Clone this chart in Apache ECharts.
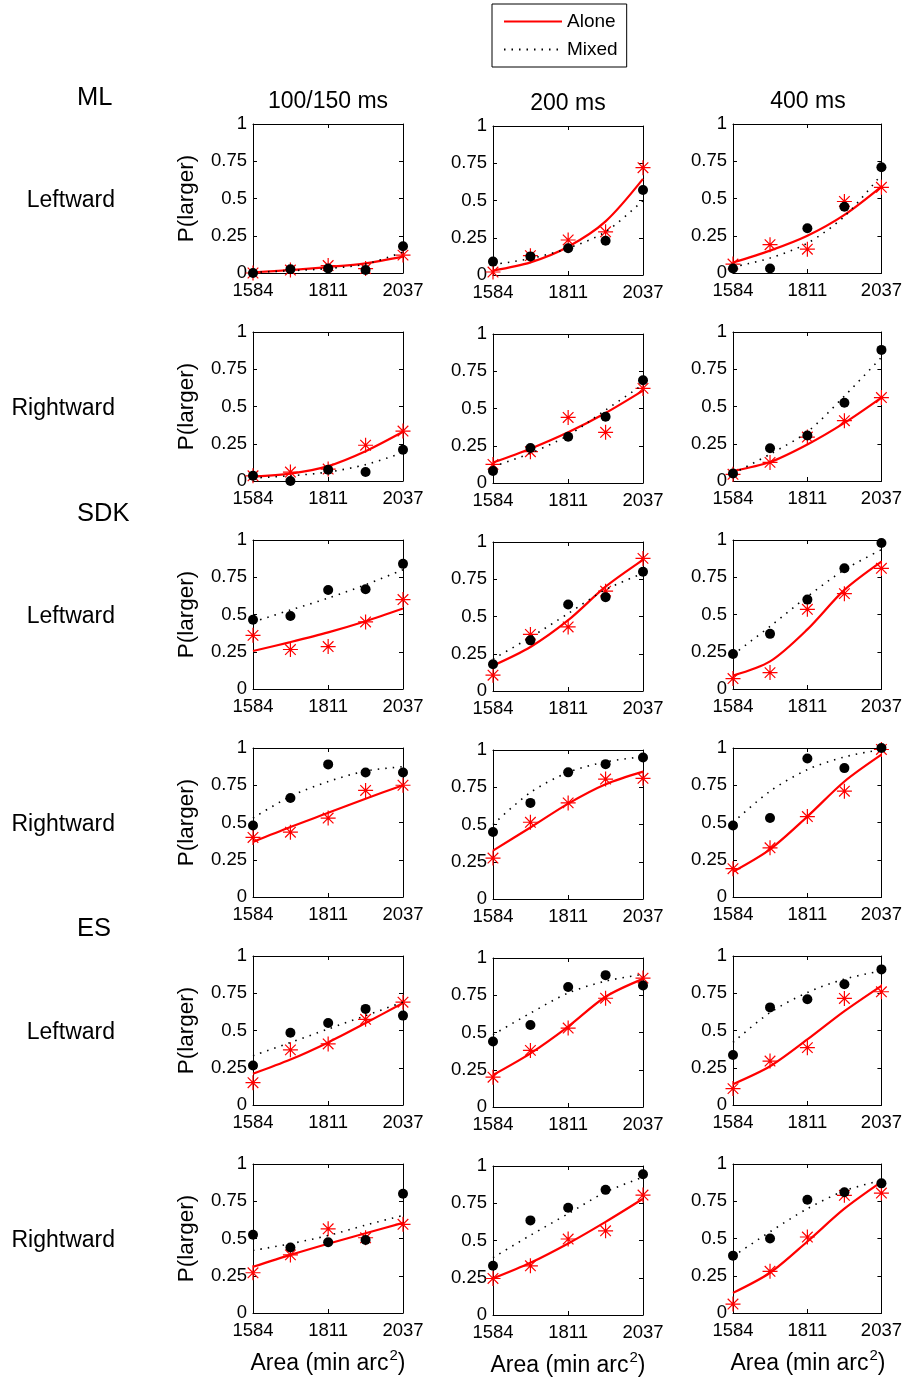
<!DOCTYPE html>
<html>
<head>
<meta charset="utf-8">
<script src="https://cdn.jsdelivr.net/npm/echarts@6/dist/echarts.min.js"></script>
<style>
html,body{margin:0;padding:0;background:#fff;}
#chart{width:905px;height:1378px;}
</style>
</head>
<body>
<div id="chart"></div>
<script>
// ---------- data ----------
const areas = [1584, 1697, 1811, 1924, 2037];
const xTickValues = [1584, 1811, 2037];
const groups = ['ML', 'SDK', 'ES'];
const directions = ['Leftward', 'Rightward'];
const durations = ['100/150 ms', '200 ms', '400 ms'];

// each array: one entry per duration column [100/150, 200, 400]
// ML Leftward
const ML_L_aloneObs = [[0.00,0.02,0.05,0.03,0.12],[0.02,0.13,0.235,0.29,0.72],[0.06,0.19,0.16,0.48,0.575]];
const ML_L_mixedObs = [[0.00,0.025,0.03,0.02,0.18],[0.09,0.125,0.18,0.23,0.57],[0.03,0.03,0.30,0.445,0.71]];
const ML_L_aloneFit = [[0.005,0.02,0.04,0.065,0.11],[0.03,0.085,0.19,0.36,0.645],[0.07,0.15,0.25,0.39,0.58]];
const ML_L_mixedFit = [[0.005,0.015,0.03,0.06,0.14],[0.07,0.11,0.18,0.29,0.50],[0.04,0.10,0.20,0.38,0.66]];
// ML Rightward
const ML_R_aloneObs = [[0.035,0.06,0.08,0.24,0.335],[0.125,0.21,0.44,0.34,0.635],[0.045,0.125,0.295,0.405,0.56]];
const ML_R_mixedObs = [[0.035,0.0,0.075,0.06,0.21],[0.08,0.235,0.31,0.445,0.69],[0.05,0.22,0.305,0.525,0.88]];
const ML_R_aloneFit = [[0.03,0.05,0.10,0.20,0.33],[0.137,0.23,0.34,0.47,0.62],[0.067,0.127,0.245,0.39,0.56]];
const ML_R_mixedFit = [[0.02,0.035,0.06,0.11,0.19],[0.11,0.20,0.32,0.49,0.66],[0.05,0.18,0.33,0.57,0.83]];
// SDK Leftward
const SDK_L_aloneObs = [[0.36,0.265,0.285,0.45,0.60],[0.106,0.38,0.43,0.67,0.89],[0.07,0.11,0.535,0.64,0.81]];
const SDK_L_mixedObs = [[0.465,0.49,0.665,0.67,0.84],[0.18,0.34,0.58,0.63,0.80],[0.235,0.37,0.60,0.81,0.98]];
const SDK_L_aloneFit = [[0.255,0.315,0.38,0.455,0.54],[0.17,0.295,0.475,0.70,0.88],[0.09,0.185,0.40,0.665,0.855]];
const SDK_L_mixedFit = [[0.45,0.53,0.61,0.70,0.80],[0.215,0.36,0.52,0.68,0.79],[0.23,0.42,0.62,0.80,0.935]];
// SDK Rightward
const SDK_R_aloneObs = [[0.40,0.435,0.53,0.715,0.75],[0.275,0.515,0.645,0.805,0.81],[0.19,0.33,0.54,0.71,0.99]];
const SDK_R_mixedObs = [[0.48,0.665,0.89,0.835,0.835],[0.45,0.645,0.85,0.905,0.95],[0.48,0.53,0.93,0.865,1.0]];
const SDK_R_aloneFit = [[0.37,0.47,0.565,0.66,0.75],[0.325,0.48,0.64,0.77,0.855],[0.17,0.32,0.54,0.775,0.955]];
const SDK_R_mixedFit = [[0.53,0.675,0.775,0.845,0.875],[0.50,0.715,0.85,0.92,0.955],[0.50,0.71,0.855,0.94,0.99]];
// ES Leftward
const ES_L_aloneObs = [[0.15,0.37,0.41,0.575,0.69],[0.20,0.38,0.53,0.73,0.865],[0.11,0.295,0.385,0.715,0.76]];
const ES_L_mixedObs = [[0.265,0.485,0.55,0.645,0.60],[0.44,0.55,0.805,0.885,0.815],[0.335,0.655,0.71,0.81,0.91]];
const ES_L_aloneFit = [[0.21,0.305,0.42,0.55,0.685],[0.215,0.36,0.54,0.74,0.86],[0.14,0.26,0.44,0.63,0.80]];
const ES_L_mixedFit = [[0.33,0.42,0.51,0.60,0.69],[0.485,0.63,0.765,0.845,0.89],[0.42,0.62,0.755,0.845,0.90]];
// ES Rightward
const ES_R_aloneObs = [[0.27,0.39,0.565,0.505,0.595],[0.245,0.33,0.51,0.565,0.805],[0.06,0.28,0.51,0.79,0.805]];
const ES_R_mixedObs = [[0.525,0.44,0.475,0.49,0.80],[0.33,0.635,0.72,0.84,0.945],[0.385,0.50,0.76,0.81,0.87]];
const ES_R_aloneFit = [[0.31,0.39,0.465,0.535,0.605],[0.245,0.35,0.48,0.625,0.78],[0.135,0.27,0.48,0.70,0.88]];
const ES_R_mixedFit = [[0.42,0.465,0.52,0.59,0.655],[0.385,0.535,0.68,0.825,0.925],[0.38,0.545,0.70,0.82,0.89]];

const rowsData = [
  {alone: ML_L_aloneObs, mixed: ML_L_mixedObs, aFit: ML_L_aloneFit, mFit: ML_L_mixedFit},
  {alone: ML_R_aloneObs, mixed: ML_R_mixedObs, aFit: ML_R_aloneFit, mFit: ML_R_mixedFit},
  {alone: SDK_L_aloneObs, mixed: SDK_L_mixedObs, aFit: SDK_L_aloneFit, mFit: SDK_L_mixedFit},
  {alone: SDK_R_aloneObs, mixed: SDK_R_mixedObs, aFit: SDK_R_aloneFit, mFit: SDK_R_mixedFit},
  {alone: ES_L_aloneObs, mixed: ES_L_mixedObs, aFit: ES_L_aloneFit, mFit: ES_L_mixedFit},
  {alone: ES_R_aloneObs, mixed: ES_R_mixedObs, aFit: ES_R_aloneFit, mFit: ES_R_mixedFit}
];

// ---------- layout ----------
const FONT = '"Liberation Sans", Arial, Helvetica, sans-serif';
const colLeft = [253, 493, 733];
const colShift = [0, 2, 0];
const rowTop0 = 124, rowStep = 208;
const boxW = 150, boxH = 149;
const STAR = 'path://M0,-10L0,10M-10,0L10,0M-7.07,-7.07L7.07,7.07M-7.07,7.07L7.07,-7.07';

const grid = [], xAxis = [], yAxis = [], series = [], graphic = [];
const pairs = ys => areas.map((a, i) => [a, ys[i]]);

let gi = 0;
for (let r = 0; r < 6; r++) {
  for (let c = 0; c < 3; c++) {
    const top = rowTop0 + r * rowStep + colShift[c];
    grid.push({left: colLeft[c], top: top, width: boxW, height: boxH, containLabel: false});
    const axLine = {show: true, onZero: false, lineStyle: {color: '#000', width: 1}};
    xAxis.push({
      gridIndex: gi, type: 'value', min: 1584, max: 2037, position: 'bottom',
      axisLine: axLine,
      axisTick: {show: true, inside: true, length: 4, customValues: xTickValues, lineStyle: {color: '#000'}},
      axisLabel: {show: true, customValues: xTickValues, formatter: v => String(v), color: '#000', fontSize: 18.5, fontFamily: FONT, margin: 8},
      splitLine: {show: false}
    });
    xAxis.push({
      gridIndex: gi, type: 'value', min: 1584, max: 2037, position: 'top',
      axisLine: axLine,
      axisTick: {show: true, inside: true, length: 4, customValues: xTickValues, lineStyle: {color: '#000'}},
      axisLabel: {show: false}, splitLine: {show: false}
    });
    yAxis.push({
      gridIndex: gi, type: 'value', min: 0, max: 1, interval: 0.25, position: 'left',
      axisLine: axLine,
      axisTick: {show: true, inside: true, length: 4, lineStyle: {color: '#000'}},
      axisLabel: {show: true, color: '#000', fontSize: 18.5, fontFamily: FONT, margin: 6},
      splitLine: {show: false}
    });
    yAxis.push({
      gridIndex: gi, type: 'value', min: 0, max: 1, interval: 0.25, position: 'right',
      axisLine: axLine,
      axisTick: {show: true, inside: true, length: 4, lineStyle: {color: '#000'}},
      axisLabel: {show: false}, splitLine: {show: false}
    });
    const xi = gi * 2, yi = gi * 2;
    const d = rowsData[r];
    series.push({
      name: 'Alone', type: 'line', xAxisIndex: xi, yAxisIndex: yi,
      data: pairs(d.aFit[c]), smooth: 0.3, symbol: 'none', clip: false,
      lineStyle: {color: '#ff0000', width: 2.2}, itemStyle: {color: '#ff0000'}, z: 2
    });
    series.push({
      name: 'Alone data', type: 'scatter', xAxisIndex: xi, yAxisIndex: yi,
      data: pairs(d.alone[c]), symbol: STAR, symbolSize: 15, clip: false,
      itemStyle: {color: 'rgba(0,0,0,0)', borderColor: '#ff0000', borderWidth: 1.2, opacity: 1}, z: 3
    });
    series.push({
      name: 'Mixed', type: 'line', xAxisIndex: xi, yAxisIndex: yi,
      data: pairs(d.mFit[c]), smooth: 0.3, symbol: 'none', clip: false,
      lineStyle: {color: '#000', width: 1.6, type: [1.5, 6]}, itemStyle: {color: '#000'}, z: 4
    });
    series.push({
      name: 'Mixed data', type: 'scatter', xAxisIndex: xi, yAxisIndex: yi,
      data: pairs(d.mixed[c]), symbol: 'circle', symbolSize: 10, clip: false,
      itemStyle: {color: '#000', opacity: 1}, z: 5
    });
    gi++;
  }
  // row labels
  const cy = rowTop0 + r * rowStep + boxH / 2 + 2;
  graphic.push({type: 'text', x: 115, y: cy, style: {text: directions[r % 2], fill: '#000', font: '23px ' + FONT, align: 'right', verticalAlign: 'middle'}});
  graphic.push({type: 'text', x: 187, y: cy - 2, rotation: Math.PI / 2, style: {text: 'P(larger)', fill: '#000', font: '22.5px ' + FONT, align: 'center', verticalAlign: 'middle'}});
}
// group labels
const groupY = [98, 514, 929];
groups.forEach((g, i) => {
  graphic.push({type: 'text', x: 77, y: groupY[i], style: {text: g, fill: '#000', font: '25.5px ' + FONT, align: 'left', verticalAlign: 'middle'}});
});
// column titles
const titleY = [102, 104, 102];
durations.forEach((t, c) => {
  graphic.push({type: 'text', x: colLeft[c] + boxW / 2, y: titleY[c], style: {text: t, fill: '#000', font: '23px ' + FONT, align: 'center', verticalAlign: 'middle'}});
  graphic.push({type: 'text', x: colLeft[c] + boxW / 2, y: 1364 + colShift[c], style: {
    text: 'Area (min arc{sup|2})', fill: '#000', font: '23px ' + FONT, align: 'center', verticalAlign: 'middle',
    rich: {sup: {fontSize: 15, fontFamily: FONT, fill: '#000', verticalAlign: 'top', padding: [0, 0, 16, 1]}}
  }});
});

const chart = echarts.init(document.getElementById('chart'), null, {renderer: 'canvas'});
chart.setOption({
  backgroundColor: '#fff',
  animation: false,
  legend: {
    data: ['Alone', 'Mixed'], orient: 'vertical', left: 492, top: 4,
    padding: [8, 9, 8, 11], itemGap: 9, itemWidth: 58, itemHeight: 18,
    borderColor: '#000', borderWidth: 1, borderRadius: 0, selectedMode: false,
    itemStyle: {opacity: 0},
    textStyle: {color: '#000', fontSize: 19, fontFamily: FONT}
  },
  grid, xAxis, yAxis, series, graphic
});
</script>
</body>
</html>
